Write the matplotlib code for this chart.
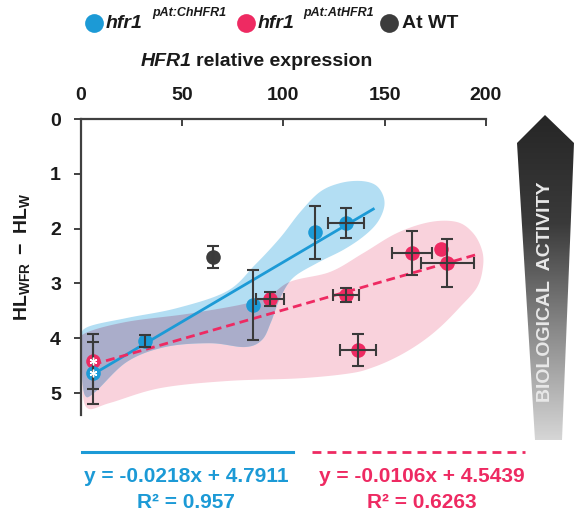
import numpy as np
import matplotlib
matplotlib.use('Agg')
import matplotlib.pyplot as plt
from matplotlib.patches import Polygon
from matplotlib.lines import Line2D
from matplotlib.colors import LinearSegmentedColormap

plt.rcParams['font.family'] = ['Liberation Sans', 'DejaVu Sans']
plt.rcParams['font.weight'] = 'bold'
plt.rcParams['mathtext.fontset'] = 'custom'
plt.rcParams['mathtext.rm'] = 'Liberation Sans:bold'
plt.rcParams['mathtext.bf'] = 'Liberation Sans:bold'
plt.rcParams['mathtext.it'] = 'Liberation Sans:bold:italic'

# ---------------- data ----------------
ch_x = [6, 32, 85, 115.5, 131]
ch_y = [4.63, 4.05, 3.39, 2.07, 1.90]
ch_xerr = [0, 0, 0, 0, 8.7]
ch_yerr = [0.57, 0.11, 0.64, 0.48, 0.27]
ch_asterisk = [True, False, False, False, False]

at_x = [6, 93.5, 131, 137, 163.5, 178, 181]
at_y = [4.42, 3.29, 3.21, 4.22, 2.45, 2.38, 2.63]
at_xerr = [0, 6.7, 6.4, 8.8, 10, 0, 13.2]
at_yerr = [0.5, 0.13, 0.13, 0.29, 0.4, 0, 0.44]
at_asterisk = [True, False, False, False, False, False, False]

wt_x = [65.5]
wt_y = [2.52]
wt_xerr = [0]
wt_yerr = [0.2]

# regression fits: slope, intercept, R2, x-range
ch_fit = (-0.0218, 4.7911, 0.957)
at_fit = (-0.0106, 4.5439, 0.6263)
ch_fit_range = (6, 145)
at_fit_range = (6, 195)

legend_labels = [('hfr1', 'pAt:ChHFR1'), ('hfr1', 'pAt:AtHFR1'), ('At WT', '')]
x_ticks = [0, 50, 100, 150, 200]
y_ticks = [0, 1, 2, 3, 4, 5]

# hand-drawn group outlines (data coords)
ch_outline = [(72.3, 3.14), (86.1, 2.66), (98.4, 2.17), (108.3, 1.70), (118.1, 1.33),
              (128.0, 1.17), (137.9, 1.13), (145.3, 1.20), (149.2, 1.39), (149.7, 1.62),
              (146.2, 1.90), (139.3, 2.15), (129.5, 2.39), (116.6, 2.63), (104.8, 2.90),
              (98.4, 3.27), (94.0, 3.70), (89.5, 4.03), (81.1, 4.16), (63.9, 4.09),
              (41.7, 4.16), (22.9, 4.43), (7.2, 4.98), (2.2, 5.04), (0.7, 4.58),
              (0.7, 4.03), (3.2, 3.80), (22.9, 3.63), (47.6, 3.45)]
at_outline = [(2.2, 3.91), (22.9, 3.70), (55.5, 3.54), (88.5, 3.30), (103.3, 2.97),
              (123.1, 2.79), (139.3, 2.45), (156.1, 2.08), (172.4, 1.88), (185.7, 1.88),
              (193.6, 2.08), (198.0, 2.39), (198.5, 2.70), (195.6, 3.07), (187.2, 3.43),
              (177.3, 3.80), (167.4, 4.09), (156.1, 4.34), (144.3, 4.53), (132.9, 4.64),
              (108.3, 4.73), (72.3, 4.78), (39.2, 4.91), (14.5, 5.18), (3.2, 5.27),
              (0.7, 4.76), (0.7, 4.12)]

# ---------------- styles ----------------
BLUE = '#1c9ad6'
PINK = '#ee2a62'
DARK = '#3c3c3c'
BLUE_FILL = '#b3def3'
PINK_FILL = '#f9d2dc'
OVERLAP_FILL = '#aaadca'
ERR = '#3a3a3a'

W, H = 574, 513
fig = plt.figure(figsize=(W / 100, H / 100), dpi=100)
fig.patch.set_facecolor('white')
renderer = fig.canvas.get_renderer()

def fx(px):
    return px / W

def fy(py):
    return 1 - py / H


def smooth_closed(pts, n=14):
    P = np.asarray(pts, float)
    N = len(P)
    out = []
    for i in range(N):
        p0, p1, p2, p3 = P[i - 1], P[i], P[(i + 1) % N], P[(i + 2) % N]
        for t in np.linspace(0, 1, n, endpoint=False):
            t2, t3 = t * t, t * t * t
            out.append(0.5 * ((2 * p1) + (-p0 + p2) * t + (2 * p0 - 5 * p1 + 4 * p2 - p3) * t2
                              + (-p0 + 3 * p1 - 3 * p2 + p3) * t3))
    return np.array(out)


ax = fig.add_axes([fx(80.5), fy(415), fx(486) - fx(80.5), (415 - 119) / H])
ax.set_xlim(0, 200)
ax.set_ylim(5.4, 0)

# shaded groups
pink_poly = Polygon(smooth_closed(at_outline), closed=True, facecolor=PINK_FILL,
                    edgecolor='none', zorder=0.5)
ax.add_patch(pink_poly)
blue_poly = Polygon(smooth_closed(ch_outline), closed=True, facecolor=BLUE_FILL,
                    edgecolor='none', zorder=0.6)
ax.add_patch(blue_poly)
ov_poly = Polygon(smooth_closed(ch_outline), closed=True, facecolor=OVERLAP_FILL,
                  edgecolor='none', zorder=0.7)
ax.add_patch(ov_poly)
ov_poly.set_clip_path(pink_poly)

# regression lines
xs = np.array(ch_fit_range, float)
ax.plot(xs, ch_fit[0] * xs + ch_fit[1], color=BLUE, lw=2.0, zorder=2, solid_capstyle='butt')
xs = np.array(at_fit_range, float)
ax.plot(xs, at_fit[0] * xs + at_fit[1], color=PINK, lw=2.0, zorder=2.1,
        dashes=(3.2, 1.8))


def draw_group(x, y, xerr, yerr, color, ast=None):
    x = np.asarray(x, float); y = np.asarray(y, float)
    xerr = np.asarray(xerr, float); yerr = np.asarray(yerr, float)
    ax.plot(x, y, 'o', ms=10.5, color=color, mec='none', zorder=4)
    mx = xerr > 0
    if mx.any():
        ax.errorbar(x[mx], y[mx], xerr=xerr[mx], fmt='none', ecolor=ERR, elinewidth=1.5,
                    capsize=4.3, capthick=1.5, zorder=5)
    my = yerr > 0
    if my.any():
        ax.errorbar(x[my], y[my], yerr=yerr[my], fmt='none', ecolor=ERR, elinewidth=1.5,
                    capsize=4.3, capthick=1.5, zorder=5)
    if ast is not None:
        a = np.asarray(ast, bool)
        ax.plot(x[a], y[a], linestyle='none', marker=(6, 2, 0), ms=5.5, mew=1.0,
                color='white', zorder=6)


draw_group(wt_x, wt_y, wt_xerr, wt_yerr, DARK)
draw_group(at_x, at_y, at_xerr, at_yerr, PINK, at_asterisk)
draw_group(ch_x, ch_y, ch_xerr, ch_yerr, BLUE, ch_asterisk)

# axes styling
for s in ['right', 'bottom']:
    ax.spines[s].set_visible(False)
for s in ['top', 'left']:
    ax.spines[s].set_color('#404040')
    ax.spines[s].set_linewidth(1.6)
ax.xaxis.tick_top()
ax.set_xticks(x_ticks)
ax.set_yticks(y_ticks)
ax.tick_params(axis='x', direction='in', length=5, width=1.4, color='#404040',
               labelsize=14, pad=11)
ax.tick_params(axis='y', direction='out', length=5, width=1.4, color='#404040',
               labelsize=14, pad=9)
for lab in ax.get_xticklabels() + ax.get_yticklabels():
    lab.set_fontweight('bold')
    lab.set_color('#1a1a1a')

# axis titles
t1 = fig.text(fx(141), fy(62), 'HFR1', ha='left', va='center', fontsize=14,
              fontweight='bold', fontstyle='italic', color='#1a1a1a')
bb = t1.get_window_extent(renderer)
fig.text((bb.x1 + 4.5) / fig.bbox.width, fy(62), 'relative expression', ha='left', va='center',
         fontsize=14, fontweight='bold', color='#1a1a1a')
fig.text(fx(22.5), fy(257), r'$\mathrm{HL}_{\mathrm{WFR}}\mathrm{\ -\ HL}_{\mathrm{W}}$',
         rotation=90, ha='center', va='center', fontsize=14, color='#1a1a1a')

# legend
leg_colors = [BLUE, PINK, DARK]
leg_circle_x = [94, 245.5, 389]
leg_text_x = [106, 258, 402]
leg_sup_x = [152, 303, 0]
for c, cx, tx, sx, (main, sup) in zip(leg_colors, leg_circle_x, leg_text_x, leg_sup_x, legend_labels):
    fig.add_artist(Line2D([fx(cx)], [fy(23)], marker='o', ms=13.5, color=c, mec='none',
                          linestyle='none', transform=fig.transFigure))
    fig.text(fx(tx), fy(24), main, ha='left', va='center', fontsize=14, fontweight='bold',
             fontstyle='normal' if sup == '' else 'italic', color='#1a1a1a')
    if sup:
        fig.text(fx(sx), fy(13), sup, ha='left', va='center', fontsize=9,
                 fontweight='bold', fontstyle='italic', color='#1a1a1a')

# equations under the plot
fig.add_artist(Line2D([fx(82), fx(293)], [fy(452), fy(452)], color=BLUE, lw=2.2,
                      transform=fig.transFigure))
fig.add_artist(Line2D([fx(312), fx(525)], [fy(452), fy(452)], color=PINK, lw=2.0,
                      dashes=(3.2, 2.2), transform=fig.transFigure))
for fit, cx, col in [(ch_fit, 186, BLUE), (at_fit, 422, PINK)]:
    fig.text(fx(cx), fy(477), f'y = {fit[0]:.4f}x + {fit[1]:.4f}', ha='center', va='center',
             fontsize=15, fontweight='bold', color=col)
    fig.text(fx(cx), fy(502), f'R\u00b2 = {fit[2]:g}', ha='center', va='center',
             fontsize=15, fontweight='bold', color=col)

# biological activity arrow
ax_ar = fig.add_axes([fx(505), fy(445), fx(574) - fx(505), (445 - 105) / H])
ax_ar.set_xlim(505, 574)
ax_ar.set_ylim(445, 105)
ax_ar.axis('off')
arrow_poly = Polygon([(545, 115), (574, 143), (562, 440), (535, 440), (517, 143)],
                     closed=True, facecolor='none', edgecolor='none')
ax_ar.add_patch(arrow_poly)
cmap = LinearSegmentedColormap.from_list('g', ['#262626', '#3a3a3a', '#8a8a8a', '#d6d6d6'])
grad = np.linspace(0, 1, 256).reshape(-1, 1)
im = ax_ar.imshow(grad, cmap=cmap, extent=(505, 574, 440, 115), origin='upper',
                  aspect='auto', zorder=1)
im.set_clip_path(arrow_poly)
ax_ar.text(546, 292, 'BIOLOGICAL  ACTIVITY', rotation=90, ha='center', va='center',
           fontsize=14, fontweight='bold', color='#e8e8e8', zorder=2)

fig.savefig('out.png', dpi=100, facecolor='white')
